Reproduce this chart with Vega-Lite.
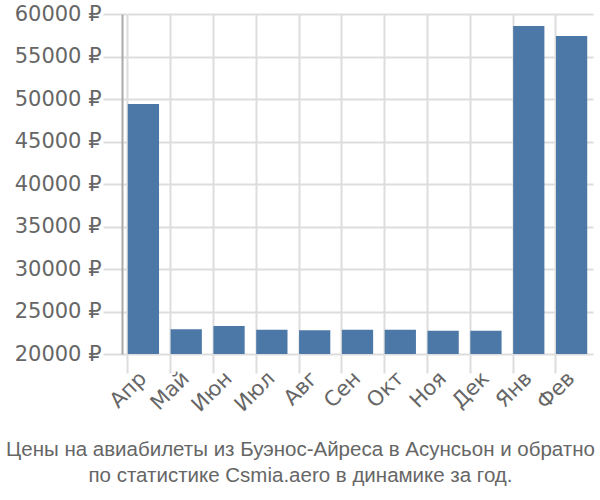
{
  "$schema": "https://vega.github.io/schema/vega-lite/v6.json",
  "autosize": {"type": "none"},
  "padding": {"left": 122, "top": 14, "right": 7, "bottom": 146},
  "width": 471,
  "height": 340,
  "background": "white",
  "config": {
    "view": {"stroke": null},
    "font": "DejaVu Sans"
  },
  "data": {
    "values": [
      {"month": "Апр", "price": 49400},
      {"month": "Май", "price": 22900},
      {"month": "Июн", "price": 23300},
      {"month": "Июл", "price": 22850},
      {"month": "Авг", "price": 22800},
      {"month": "Сен", "price": 22850},
      {"month": "Окт", "price": 22850},
      {"month": "Ноя", "price": 22750},
      {"month": "Дек", "price": 22750},
      {"month": "Янв", "price": 58600},
      {"month": "Фев", "price": 57400}
    ]
  },
  "mark": {"type": "bar", "color": "#4c78a8", "clip": true},
  "encoding": {
    "x": {
      "field": "month",
      "type": "nominal",
      "sort": null,
      "scale": {"paddingInner": 0.27, "paddingOuter": 0.135},
      "axis": {
        "title": ["Цены на авиабилеты из Буэнос-Айреса в Асунсьон и обратно", "по статистике Csmia.aero в динамике за год."],
        "titleFont": "Liberation Sans",
        "titleFontSize": 20.5,
        "titleFontWeight": "normal",
        "titleColor": "#666666",
        "titleLineHeight": 26,
        "titleX": 178,
        "titleY": 101,
        "titleAnchor": "middle",
        "titleAlign": "center",
        "titleBaseline": "alphabetic",
        "labelAngle": -45,
        "labelFont": "DejaVu Sans",
        "labelFontSize": 21,
        "labelColor": "#666666",
        "labelAlign": "right",
        "labelBaseline": "middle",
        "labelPadding": 2,
        "labelOverlap": false,
        "tickSize": 19,
        "tickColor": "#dddddd",
        "tickWidth": 2,
        "bandPosition": 0,
        "grid": true,
        "gridColor": "#dddddd",
        "gridWidth": 2,
        "domain": false
      }
    },
    "y": {
      "field": "price",
      "type": "quantitative",
      "scale": {"domain": [20000, 60000], "nice": false, "zero": false},
      "axis": {
        "title": null,
        "values": [20000, 25000, 30000, 35000, 40000, 45000, 50000, 55000, 60000],
        "labelExpr": "datum.value + ' ₽'",
        "labelFontSize": 21,
        "labelColor": "#666666",
        "labelPadding": 2,
        "labelOverlap": false,
        "tickSize": 19,
        "tickColor": "#dddddd",
        "tickWidth": 2,
        "grid": true,
        "gridColor": "#dddddd",
        "gridWidth": 2,
        "domainColor": "#aaaaaa",
        "domainWidth": 2
      }
    }
  }
}
